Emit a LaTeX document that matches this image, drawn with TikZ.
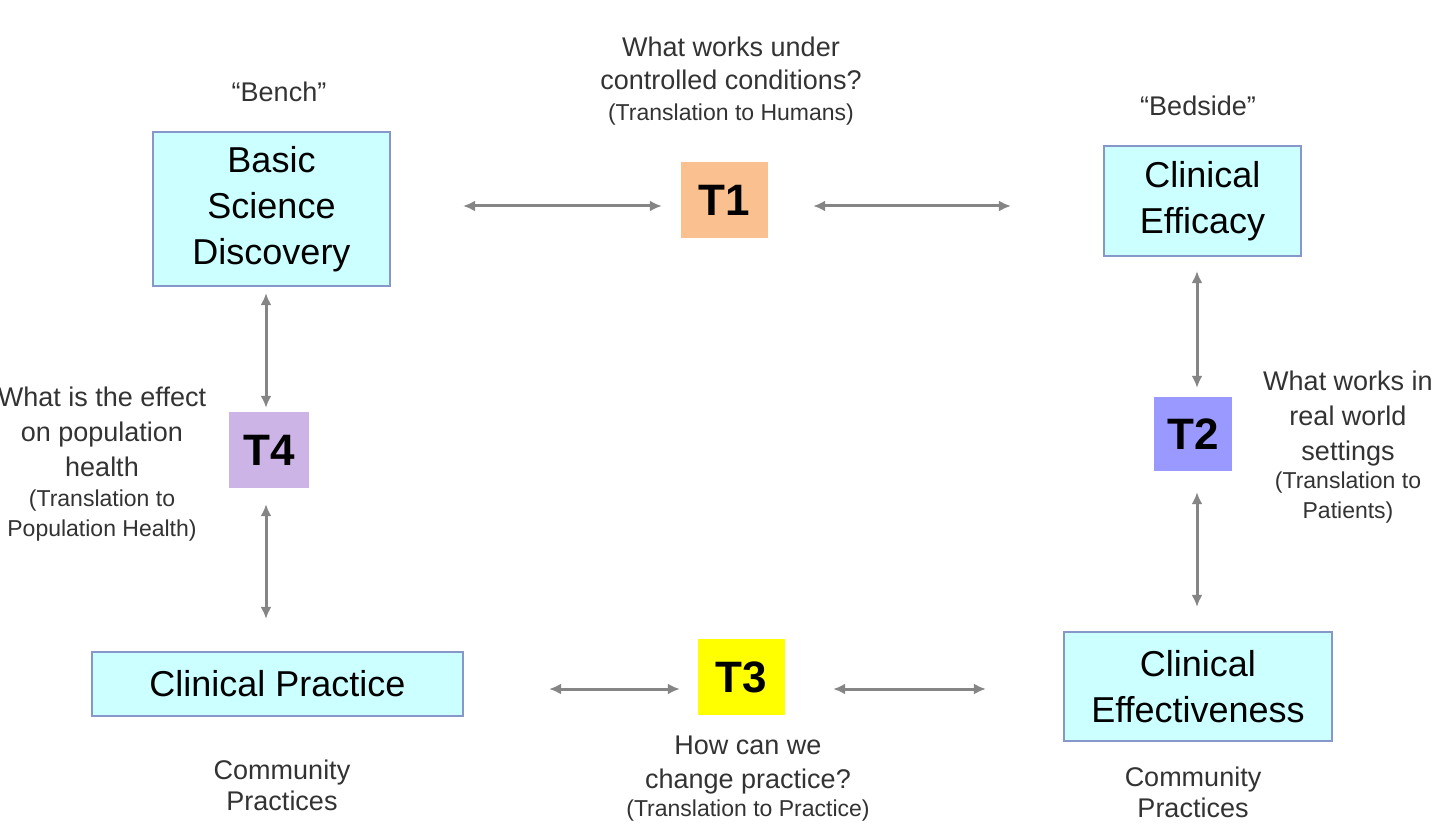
\documentclass[tikz,border=0pt]{standalone}
\usepackage{fontspec}
\setmainfont{Liberation Sans}
\usetikzlibrary{arrows.meta}
\definecolor{boxfill}{HTML}{CCFFFF}
\definecolor{boxline}{HTML}{8797C9}
\definecolor{tone}{HTML}{FAC090}
\definecolor{ttwo}{HTML}{9999FF}
\definecolor{tthree}{HTML}{FFFF00}
\definecolor{tfour}{HTML}{CDB4E6}
\definecolor{arrowgray}{HTML}{858585}
\definecolor{labelgray}{HTML}{333333}
\newcommand\subtxt[1]{{\fontsize{23}{28}\selectfont #1}}
\begin{document}
\begin{tikzpicture}[x=1pt,y=-1pt,
  stage/.style={draw=boxline, line width=2.2pt, fill=boxfill, inner sep=0pt, align=center, font=\fontsize{36}{46}\selectfont},
  tbox/.style={inner sep=0pt, font=\fontsize{44}{50}\selectfont\bfseries},
  lab/.style={inner sep=0pt, align=center, text=labelgray, font=\fontsize{27}{33}\selectfont},
  arr/.style={draw=arrowgray, line width=3pt, {Latex[length=12pt,width=11pt]}-{Latex[length=12pt,width=11pt]}}
]
\useasboundingbox[fill=white] (0,0) rectangle (1440,829);

% main stage boxes
\node[stage, minimum width=237pt, minimum height=154pt] (bsd) at (271.5,209) {Basic\\Science\\Discovery};
\node[stage, minimum width=197pt, minimum height=110pt] (ceff) at (1202.5,201) {Clinical\\Efficacy};
\node[stage, minimum width=268pt, minimum height=109pt] (cev) at (1198,686.5) {Clinical\\Effectiveness};
\node[stage, minimum width=371pt, minimum height=64pt] (cp) at (277.5,684) {Clinical Practice};

% translation boxes
\node[tbox, fill=tone, minimum width=87pt, minimum height=76pt] (t1) at (724.5,200) {T1};
\node[tbox, fill=ttwo, minimum width=78pt, minimum height=74pt] (t2) at (1193,434) {T2};
\node[tbox, fill=tthree, minimum width=87pt, minimum height=76pt] (t3) at (741.5,677) {T3};
\node[tbox, fill=tfour, minimum width=80pt, minimum height=76pt] (t4) at (269,450) {T4};

% labels
\node[lab] (bench) at (279,92) {“Bench”};
\node[lab] (bedside) at (1198,106) {“Bedside”};
\node[lab, anchor=north] (q1) at (731,37) {What works under\\controlled conditions?\\[-2pt]\subtxt{(Translation to Humans)}};
\node[lab, anchor=north, font=\fontsize{27}{35}\selectfont] (q2) at (1348,371) {What works in\\real world\\settings\\[-7pt]\subtxt{(Translation to}\\[-5pt]\subtxt{Patients)}};
\node[lab, anchor=north, font=\fontsize{27}{34}\selectfont] (q3) at (748,736) {How can we\\change practice?\\[-6pt]\subtxt{(Translation to Practice)}};
\node[lab, anchor=north, font=\fontsize{27}{35}\selectfont] (q4) at (102,387) {What is the effect\\on population\\health\\[-5pt]\subtxt{(Translation to}\\[-5pt]\subtxt{Population Health)}};
\node[lab, anchor=north, font=\fontsize{27}{31}\selectfont] (cpl) at (282,760) {Community\\Practices};
\node[lab, anchor=north, font=\fontsize{27}{31}\selectfont] (cpr) at (1193,767) {Community\\Practices};

% connectors
\coordinate (h1) at (0,206);
\coordinate (v2) at (1197,0);
\coordinate (h3) at (0,689);
\coordinate (v4) at (266,0);
\draw[arr, shorten <=72pt, shorten >=19pt] (bsd.east |- h1) -- (t1.west |- h1);
\draw[arr, shorten <=45pt, shorten >=92pt] (t1.east |- h1) -- (ceff.west |- h1);
\draw[arr, shorten <=14pt, shorten >=9pt] (ceff.south -| v2) -- (t2.north -| v2);
\draw[arr, shorten <=21pt, shorten >=24pt] (t2.south -| v2) -- (cev.north -| v2);
\draw[arr, shorten <=85pt, shorten >=18pt] (cp.east |- h3) -- (t3.west |- h3);
\draw[arr, shorten <=48pt, shorten >=77pt] (t3.east |- h3) -- (cev.west |- h3);
\draw[arr, shorten <=6pt, shorten >=4pt] (bsd.south -| v4) -- (t4.north -| v4);
\draw[arr, shorten <=16pt, shorten >=32pt] (t4.south -| v4) -- (cp.north -| v4);
\end{tikzpicture}
\end{document}
